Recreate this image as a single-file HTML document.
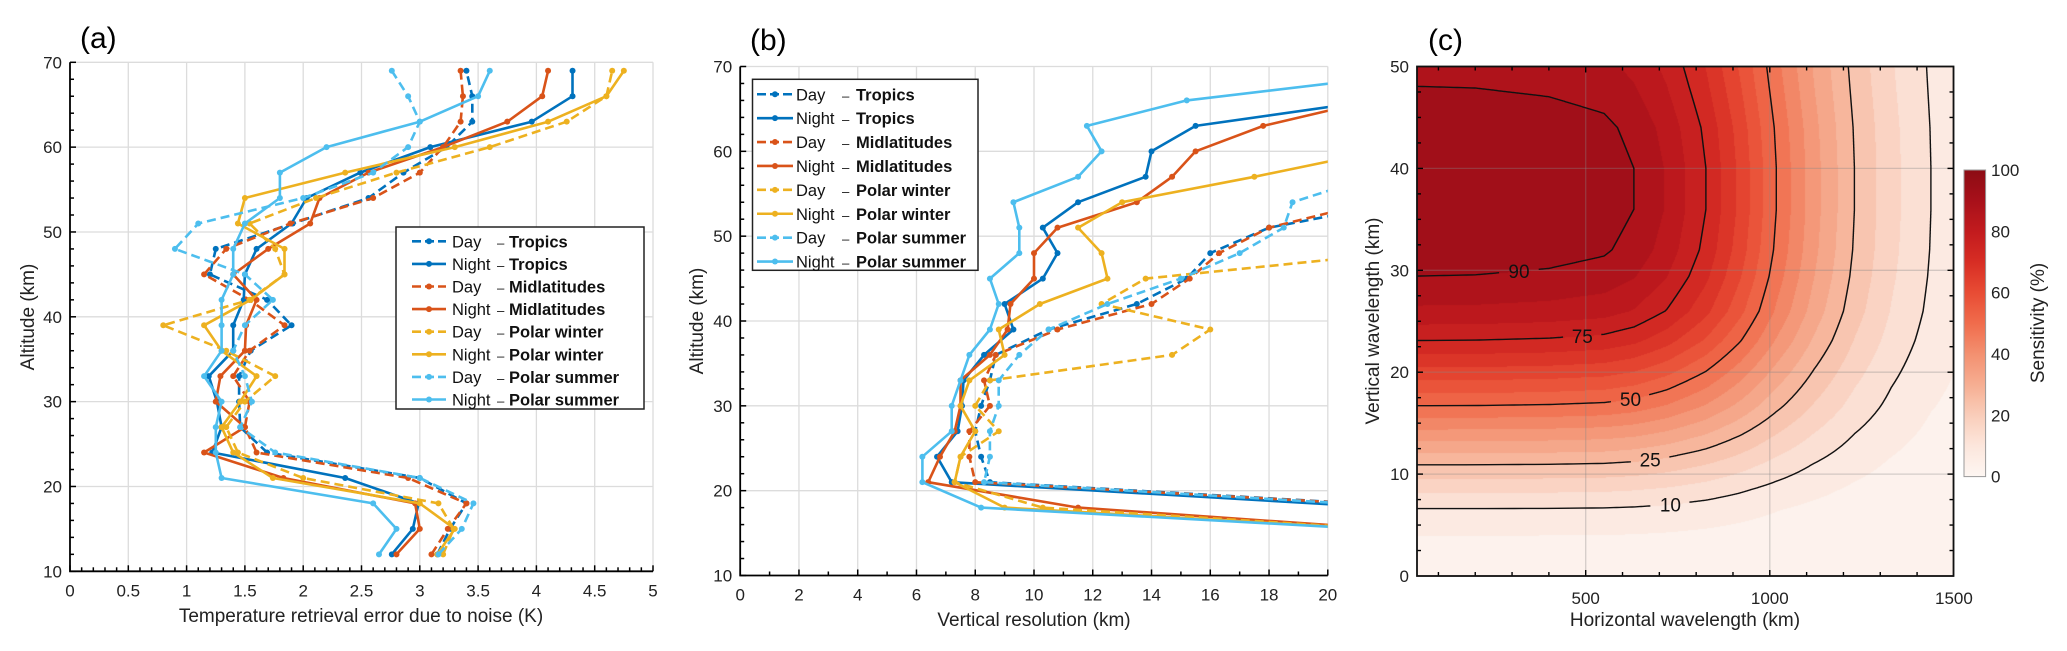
<!DOCTYPE html>
<html><head><meta charset="utf-8"><style>
html,body{margin:0;padding:0;background:#fff;}
#wrap{position:relative;width:2067px;height:651px;overflow:hidden;}
#heat{position:absolute;left:1417px;top:66.5px;}
svg{position:absolute;left:0;top:0;font-family:"Liberation Sans",sans-serif;}
</style></head><body>
<div id="wrap">
<canvas id="heat" width="537" height="510"></canvas>
<svg id="svg" width="2067" height="651" viewBox="0 0 2067 651"></svg>
</div>
<script>
// ---------- Panel (a) data ----------
const altA=[12,15,18,21,24,27,30,33,36,39,42,45,48,51,54,57,60,63,66,69];
const aDayTropics=[3.15,3.26,3.4,3.0,1.69,1.46,1.45,1.45,1.55,1.9,1.69,1.2,1.25,1.91,2.56,2.86,3.23,3.45,3.45,3.4];
const aNightTropics=[2.76,2.94,2.99,2.36,1.22,1.3,1.26,1.19,1.4,1.4,1.49,1.5,1.6,1.9,2.03,2.49,3.09,3.96,4.31,4.31];
const aDayMid=[3.1,3.24,3.4,2.9,1.6,1.5,1.54,1.4,1.54,1.84,1.54,1.15,1.34,1.89,2.6,3.0,3.2,3.35,3.37,3.35];
const aNightMid=[2.8,3.0,2.96,1.83,1.15,1.5,1.25,1.29,1.5,1.51,1.6,1.4,1.7,2.06,2.14,2.56,3.2,3.75,4.05,4.1];
const aDayPW=[3.2,3.29,3.16,2.0,1.44,1.34,1.5,1.76,1.34,0.8,1.54,1.84,1.76,1.54,2.11,2.8,3.6,4.26,4.6,4.65];
const aNightPW=[3.15,3.3,3.0,1.74,1.4,1.3,1.46,1.6,1.3,1.15,1.55,1.84,1.84,1.44,1.5,2.36,3.3,4.1,4.6,4.75];
const aDaySS=[3.16,3.36,3.46,3.0,1.76,1.46,1.56,1.5,1.4,1.5,1.74,1.5,0.9,1.1,2.0,2.6,2.9,3.0,2.9,2.76];
const aNightSS=[2.65,2.8,2.6,1.3,1.25,1.25,1.3,1.15,1.3,1.3,1.3,1.4,1.4,1.5,1.8,1.8,2.2,3.0,3.5,3.6];
const aXTicks=[0,0.5,1,1.5,2,2.5,3,3.5,4,4.5,5];
const aXTickLabels=["0","0.5","1","1.5","2","2.5","3","3.5","4","4.5","5"];
const altTicks=[10,20,30,40,50,60,70];
// ---------- Panel (b) data ----------
const altB=[15,18,21,24,27,30,33,36,39,42,45,48,51,54,57,60,63,66,69];
const bDayTropics=[null,23.5,8.5,8.2,8.0,8.2,8.5,8.7,10.5,13.5,15.2,16.0,18.0,22.5,null,null,null,null,null];
const bNightTropics=[null,22,7.2,6.7,7.4,7.55,7.6,8.3,9.3,9.0,10.3,10.8,10.3,11.5,13.8,14.0,15.5,21.6,null];
const bDayMid=[null,23.5,8.0,7.8,7.8,8.5,8.3,8.7,10.8,14.0,15.3,16.3,18.0,21.5,null,null,null,null,null];
const bNightMid=[24,11.5,6.4,6.8,7.3,7.5,7.5,8.5,9.1,9.2,10.0,10.0,10.8,13.5,14.7,15.5,17.8,21.5,null];
const bDayPW=[24,10.3,7.3,7.5,8.8,8.0,8.5,14.7,16.0,12.3,13.8,22.3,null,null,null,null,null,null,null];
const bNightPW=[24,9.0,7.3,7.5,8.0,7.5,7.8,9.0,8.8,10.2,12.5,12.3,11.5,13.0,17.5,21.7,null,null,null];
const bDaySS=[24,23,8.3,8.5,8.5,8.8,8.8,9.5,10.5,12.5,15.0,17.0,18.5,18.8,21.5,null,null,null,null];
const bNightSS=[24,8.2,6.2,6.2,7.2,7.2,7.5,7.8,8.5,8.8,8.5,9.5,9.5,9.3,11.5,12.3,11.8,15.2,22.5];
const bXTicks=[0,2,4,6,8,10,12,14,16,18,20];
// ---------- Panel (c) data ----------
const lxKnots=[0,200,400,550,632,720,826,920,1018,1120,1230,1330,1438,1500,1600];
const bFactor=[1,0.998,0.99,0.975,0.947,0.89,0.79,0.67,0.526,0.39,0.263,0.175,0.105,0.08,0.05];
const lzKnots=[0,2,4,6.6,8.5,10.9,13.5,16.7,20,23.1,26,29.4,32,36,40,44,48.1,50];
const aFactor=[0,0.02,0.05,0.1,0.16,0.25,0.36,0.5,0.63,0.75,0.84,0.9,0.93,0.95,0.95,0.935,0.9,0.885];
const contourLevels=[10,25,50,75,90];
const contourLabelX=[736,682,628,496,326];
const cXTicks=[500,1000,1500];
const cYTicks=[0,10,20,30,40,50];
const cbarTicks=[0,20,40,60,80,100];

const NS='http://www.w3.org/2000/svg';
const svg=document.getElementById('svg');
function el(tag,attrs,parent){const e=document.createElementNS(NS,tag);for(const k in attrs)e.setAttribute(k,attrs[k]);(parent||svg).appendChild(e);return e;}
function txt(s,attrs,parent){const t=el('text',attrs,parent);t.textContent=s;return t;}

const BLUE='#0072BD',RED='#D95319',YEL='#EDB120',LBLUE='#4DBEEE';
const FS=17;

const A={x0:70,x1:653,y0:571.3,y1:62.3,xmin:0,xmax:5,ymin:10,ymax:70};
const B={x0:740.2,x1:1327.8,y0:575.5,y1:66.5,xmin:0,xmax:20,ymin:10,ymax:70};
const C={x0:1417,x1:1953.5,y0:576,y1:66.5};
function sx(P,v){return P.x0+(v-P.xmin)/(P.xmax-P.xmin)*(P.x1-P.x0);}
function sy(P,v){return P.y0-(v-P.ymin)/(P.ymax-P.ymin)*(P.y0-P.y1);}
function cx(v){return 1401.6+v*0.3682;}
function cy(v){return 576-v*10.19;}

function axesLine(P,name,xticks,xlabels,xminor,yminor){
  const g=el('g',{});
  
  
  xticks.forEach((v,i)=>{
    if(v>P.xmin){const l=el('line',{x1:sx(P,v),x2:sx(P,v),y1:P.y0,y2:P.y1,stroke:'#dcdcdc','stroke-width':1.3},g);
    
    }
  });
  altTicks.forEach(v=>{
    if(v>P.ymin){const l=el('line',{x1:P.x0,x2:P.x1,y1:sy(P,v),y2:sy(P,v),stroke:'#dcdcdc','stroke-width':1.3},g);
    
    }
  });
  for(let v=P.xmin;v<=P.xmax+1e-9;v+=xminor){const x=sx(P,v);const major=xticks.some(t=>Math.abs(t-v)<1e-6);
    el('line',{x1:x,x2:x,y1:P.y0,y2:P.y0-(major?6:4),stroke:'#000','stroke-width':1.5},g);}
  for(let v=P.ymin;v<=P.ymax+1e-9;v+=yminor){const y=sy(P,v);const major=Math.abs(v-Math.round(v))<1e-6&&Math.round(v)%10===0;
    el('line',{x1:P.x0,x2:P.x0+(major?6:4),y1:y,y2:y,stroke:'#000','stroke-width':1.5},g);}
  const ax=el('path',{d:`M${P.x0},${P.y1}V${P.y0}H${P.x1}`,fill:'none',stroke:'#000','stroke-width':1.8},g);
  
  
  xticks.forEach((v,i)=>{const t=txt(xlabels[i],{x:sx(P,v),y:P.y0+25,'font-size':FS,'text-anchor':'middle',fill:'#222'},g);
    
    });
  altTicks.forEach(v=>{const t=txt(String(v),{x:P.x0-8,y:sy(P,v)+6,'font-size':FS,'text-anchor':'end',fill:'#222'},g);
    
    });
}

const seriesStyle=[
 {name:'day-tropics',c:BLUE,dash:true,lab:'Day',reg:'Tropics'},
 {name:'night-tropics',c:BLUE,dash:false,lab:'Night',reg:'Tropics'},
 {name:'day-midlatitudes',c:RED,dash:true,lab:'Day',reg:'Midlatitudes'},
 {name:'night-midlatitudes',c:RED,dash:false,lab:'Night',reg:'Midlatitudes'},
 {name:'day-polar-winter',c:YEL,dash:true,lab:'Day',reg:'Polar winter'},
 {name:'night-polar-winter',c:YEL,dash:false,lab:'Night',reg:'Polar winter'},
 {name:'day-polar-summer',c:LBLUE,dash:true,lab:'Day',reg:'Polar summer'},
 {name:'night-polar-summer',c:LBLUE,dash:false,lab:'Night',reg:'Polar summer'}];

function drawSeries(P,alts,vals,st,clipId,prefix){
  const g=el('g',{'clip-path':`url(#${clipId})`});
  
  
  let d='';let pen=false;
  alts.forEach((a,i)=>{const v=vals[i];if(v===null){pen=false;return;}
    d+=(pen?'L':'M')+sx(P,v).toFixed(1)+','+sy(P,a).toFixed(1);pen=true;});
  const p=el('path',{d:d,fill:'none',stroke:st.c,'stroke-width':2.6,'stroke-linejoin':'round','stroke-dasharray':st.dash?'9,5':'none'},g);
  
  
  alts.forEach((a,i)=>{const v=vals[i];if(v===null)return;
    const m=el('circle',{cx:sx(P,v),cy:sy(P,a),r:3,fill:st.c},g);
    
    });
}

function legend(x,y,w,h,step,fs,lineX0,lineX1,textX,dashX,regX,prefix){
  const g=el('g',{});
  
  
  el('rect',{x:x,y:y,width:w,height:h,fill:'#fff',stroke:'#222','stroke-width':1.5},g);
  seriesStyle.forEach((st,i)=>{
    const yy=y+step*(i+0.5)+3;
    const e=el('g',{},g);
    
    
    el('line',{x1:lineX0,x2:lineX1,y1:yy,y2:yy,stroke:st.c,'stroke-width':2.6,'stroke-dasharray':st.dash?'9,4':'none'},e);
    el('circle',{cx:(lineX0+lineX1)/2,cy:yy,r:3,fill:st.c},e);
    txt(st.lab,{x:textX,y:yy+6,'font-size':fs,fill:'#111'},e);
    txt('–',{x:dashX,y:yy+6,'font-size':fs*0.8,fill:'#111'},e);
    txt(st.reg,{x:regX,y:yy+6,'font-size':fs,'font-weight':'bold',fill:'#111'},e);
  });
}

const defs=el('defs',{});
const cpA=el('clipPath',{id:'clipA'},defs);el('rect',{x:A.x0,y:A.y1,width:A.x1-A.x0,height:A.y0-A.y1},cpA);
const cpB=el('clipPath',{id:'clipB'},defs);el('rect',{x:B.x0,y:B.y1,width:B.x1-B.x0,height:B.y0-B.y1},cpB);
const cpC=el('clipPath',{id:'clipC'},defs);el('rect',{x:C.x0,y:C.y1,width:C.x1-C.x0,height:C.y0-C.y1},cpC);

// ---- Panel A ----
axesLine(A,'panel-a',aXTicks,aXTickLabels,0.1,2);
const aVals=[aDayTropics,aNightTropics,aDayMid,aNightMid,aDayPW,aNightPW,aDaySS,aNightSS];
aVals.forEach((v,i)=>drawSeries(A,altA,v,seriesStyle[i],'clipA','a'));
legend(396,227,248,182,22.6,16.5,412,446,452,497,509,'panel-a');
let t;
t=txt('(a)',{x:80,y:48,'font-size':30,fill:'#000'});


t=txt('Temperature retrieval error due to noise  (K)',{x:361,y:622,'font-size':19,'text-anchor':'middle',fill:'#222'});


t=txt('Altitude  (km)',{x:0,y:0,'font-size':19,'text-anchor':'middle',fill:'#222',transform:'translate(34,317) rotate(-90)'});



// ---- Panel B ----
axesLine(B,'panel-b',bXTicks,bXTicks.map(String),1,2);
const bVals=[bDayTropics,bNightTropics,bDayMid,bNightMid,bDayPW,bNightPW,bDaySS,bNightSS];
bVals.forEach((v,i)=>drawSeries(B,altB,v,seriesStyle[i],'clipB','b'));
legend(752.5,79.3,225.5,191,23.9,16.5,757,793,796,842,856,'panel-b');
t=txt('(b)',{x:750,y:50,'font-size':30,fill:'#000'});


t=txt('Vertical resolution (km)',{x:1034,y:626,'font-size':19,'text-anchor':'middle',fill:'#222'});


t=txt('Altitude  (km)',{x:0,y:0,'font-size':19,'text-anchor':'middle',fill:'#222',transform:'translate(703,321) rotate(-90)'});



// ---- Panel C ----
function interp(xs,ys,x){if(x<=xs[0])return ys[0];for(let i=1;i<xs.length;i++){if(x<=xs[i]){const f=(x-xs[i-1])/(xs[i]-xs[i-1]);return ys[i-1]+f*(ys[i]-ys[i-1]);}}return ys[ys.length-1];}
function Bf(lx){return interp(lxKnots,bFactor,lx);}
function Af(lz){return interp(lzKnots,aFactor,lz);}
function Binv(r){if(r>=bFactor[0])return 0;for(let i=1;i<bFactor.length;i++){if(r>=bFactor[i]){const f=(bFactor[i-1]-r)/(bFactor[i-1]-bFactor[i]);return lxKnots[i-1]+f*(lxKnots[i]-lxKnots[i-1]);}}return lxKnots[lxKnots.length-1];}
const cmapStops=[[0,[253,246,242]],[10,[252,230,220]],[20,[249,205,186]],[30,[246,174,146]],[40,[243,144,112]],[50,[240,108,76]],[60,[232,76,52]],[70,[215,45,36]],[80,[194,27,30]],[90,[168,16,26]],[100,[140,12,20]]];
function cmap(s){for(let i=1;i<cmapStops.length;i++){if(s<=cmapStops[i][0]){const a=cmapStops[i-1],b=cmapStops[i];const f=(s-a[0])/(b[0]-a[0]);return a[1].map((c,k)=>Math.round(c+f*(b[1][k]-c)));}}return cmapStops[cmapStops.length-1][1];}
(function(){
  const cv=document.getElementById('heat');const ctx=cv.getContext('2d');
  const W=cv.width,H=cv.height;const img=ctx.createImageData(W,H);
  for(let j=0;j<H;j++){const lz=(576-(66.5+j+0.5))/10.19;const a=Af(lz);
    for(let i=0;i<W;i++){const lx=(1417+i+0.5-1401.6)/0.3682;let s=100*a*Bf(lx);
      const lev=Math.min(95,Math.floor(s/5)*5);const c=cmap(lev+2.5);const p=(j*W+i)*4;
      img.data[p]=c[0];img.data[p+1]=c[1];img.data[p+2]=c[2];img.data[p+3]=255;}}
  ctx.putImageData(img,0,0);
})();
const gC=el('g',{});


cXTicks.forEach(v=>{const l=el('line',{x1:cx(v),x2:cx(v),y1:C.y0,y2:C.y1,stroke:'#888','stroke-opacity':0.35,'stroke-width':1.3},gC);
  
  });
cYTicks.forEach(v=>{const l=el('line',{x1:C.x0,x2:C.x1,y1:cy(v),y2:cy(v),stroke:'#888','stroke-opacity':0.35,'stroke-width':1.3},gC);
  
  });
// contours
const gCont=el('g',{'clip-path':'url(#clipC)'});


contourLevels.forEach((L,k)=>{
  const raw=[];
  for(let lz=0;lz<=50.001;lz+=0.01){const a=Af(lz);if(a<=L/100){raw.push(null);continue;}
    const lx=Binv(L/100/a);raw.push([cx(Math.max(lx,0)),cy(lz)]);}
  // extend each segment to left edge at both ends
  const pts=[];
  for(let i=0;i<raw.length;i++){
    const p=raw[i];
    if(p&&(i===0||!raw[i-1]))pts.push([cx(0),p[1]]);
    pts.push(p);
    if(p&&i<raw.length-1&&!raw[i+1])pts.push([cx(0),p[1]]);
  }
  // label position: near target x, prefer lowest branch
  const tx=cx(contourLabelX[k]);let best=null;
  pts.forEach(p=>{if(!p)return;if(Math.abs(p[0]-tx)<3&&p[1]>C.y1+5){if(!best||p[1]>best[1])best=p;}});
  if(!best){let bd=1e9;pts.forEach(p=>{if(!p)return;const d=Math.abs(p[0]-tx);if(d<bd){bd=d;best=p;}});}
  let d='',pen=false;
  pts.forEach(p=>{if(!p){pen=false;return;}
    if(best&&Math.hypot(p[0]-best[0],p[1]-best[1])<19){pen=false;return;}
    d+=(pen?'L':'M')+p[0].toFixed(1)+','+p[1].toFixed(1);pen=true;});
  const path=el('path',{d:d,fill:'none',stroke:'#111','stroke-width':1.4},gCont);
  
  
  if(best){const lt=txt(String(L),{x:best[0],y:best[1]+7,'font-size':19,'text-anchor':'middle',fill:'#111'});
    
    }
});
for(let v=100;v<1500;v+=100){const x=cx(v);const major=cXTicks.includes(v);
  el('line',{x1:x,x2:x,y1:C.y0,y2:C.y0-(major?6:4),stroke:'#000','stroke-width':1.4},gC);
  el('line',{x1:x,x2:x,y1:C.y1,y2:C.y1+(major?6:4),stroke:'#000','stroke-width':1.4},gC);}
for(let v=2.5;v<50;v+=2.5){const y=cy(v);const major=(v%10===0);
  el('line',{x1:C.x0,x2:C.x0+(major?6:4),y1:y,y2:y,stroke:'#000','stroke-width':1.4},gC);
  el('line',{x1:C.x1,x2:C.x1-(major?6:4),y1:y,y2:y,stroke:'#000','stroke-width':1.4},gC);}
const box=el('rect',{x:C.x0,y:C.y1,width:C.x1-C.x0,height:C.y0-C.y1,fill:'none',stroke:'#111','stroke-width':1.8},gC);


cXTicks.forEach(v=>{const tt=txt(String(v),{x:cx(v),y:C.y0+28,'font-size':FS,'text-anchor':'middle',fill:'#222'},gC);
  
  });
cYTicks.forEach(v=>{const tt=txt(String(v),{x:C.x0-8,y:cy(v)+6,'font-size':FS,'text-anchor':'end',fill:'#222'},gC);
  
  });
t=txt('(c)',{x:1428,y:50,'font-size':30,fill:'#000'});


t=txt('Horizontal wavelength (km)',{x:1685,y:626,'font-size':19,'text-anchor':'middle',fill:'#222'});


t=txt('Vertical wavelength (km)',{x:0,y:0,'font-size':19,'text-anchor':'middle',fill:'#222',transform:'translate(1379,321) rotate(-90)'});


const grad=el('linearGradient',{id:'cbg',x1:0,y1:1,x2:0,y2:0},defs);
for(let s=0;s<=100;s+=5){const c=cmap(s);el('stop',{offset:(s/100),'stop-color':`rgb(${c[0]},${c[1]},${c[2]})`},grad);}
const cbT=170,cbB=476.6;
const cb=el('rect',{x:1964,y:cbT,width:21.6,height:cbB-cbT,fill:'url(#cbg)',stroke:'#999','stroke-width':1});


cbarTicks.forEach(v=>{const y=cbB-(v/100)*(cbB-cbT);
  const tt=txt(String(v),{x:1991,y:y+6,'font-size':FS,fill:'#222'});
  
  });
t=txt('Sensitivity (%)',{x:0,y:0,'font-size':19,'text-anchor':'middle',fill:'#222',transform:'translate(2044,323) rotate(-90)'});


</script>
</body></html>
